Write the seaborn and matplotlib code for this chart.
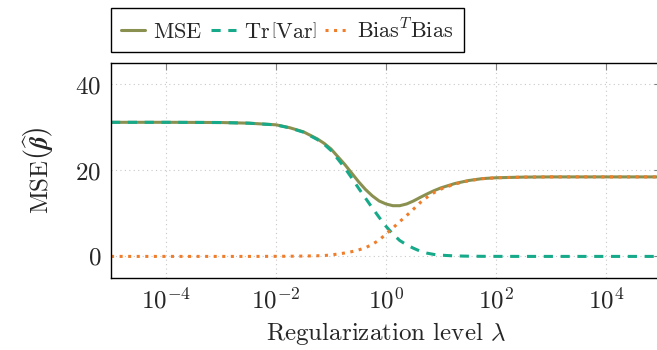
import numpy as np
import pandas as pd
import seaborn as sns
import matplotlib.pyplot as plt

# values (log10 of lambda on x)
log_lam = [-5, -4, -3, -2.5, -2, -1.75, -1.5, -1.25, -1.125, -1, -0.875, -0.75, -0.625, -0.5,
           -0.375, -0.25, -0.125, 0, 0.125, 0.25, 0.375, 0.5, 0.625, 0.75, 0.875, 1,
           1.25, 1.5, 1.75, 2, 2.5, 3, 4, 5]
tr_var = [31.2, 31.2, 31.15, 31.0, 30.6, 29.9, 28.9, 27.2, 26.1, 24.65, 22.65, 20.6, 18.3, 15.9,
          13.6, 11.3, 9.1, 7.0, 5.2, 3.7, 2.7, 1.9, 1.2, 0.75, 0.45, 0.28,
          0.12, 0.05, 0.02, 0.01, 0.0, 0.0, 0.0, 0.0]
bias_sq = [0.0, 0.0, 0.0, 0.0, 0.02, 0.04, 0.08, 0.15, 0.2, 0.35, 0.55, 0.8, 1.1, 1.5,
           2.0, 2.8, 3.8, 5.2, 6.6, 8.1, 9.5, 11.0, 12.55, 13.8, 14.85, 15.67,
           16.83, 17.6, 18.08, 18.29, 18.45, 18.5, 18.5, 18.5]
mse = [v + b for v, b in zip(tr_var, bias_sq)]

lam = [10.0 ** e for e in log_lam]
df = pd.DataFrame({"lam": lam, "mse": mse, "var": tr_var, "bias": bias_sq})

sns.set_style("white")
plt.rcParams["font.family"] = "serif"
plt.rcParams["font.serif"] = ["cmr10", "DejaVu Serif"]
plt.rcParams["mathtext.fontset"] = "cm"
plt.rcParams["axes.formatter.use_mathtext"] = True
plt.rcParams["axes.unicode_minus"] = False

fig = plt.figure(figsize=(6.57, 3.5), dpi=100)
ax = fig.add_axes([0.169, 0.206, 0.837, 0.614])

sns.lineplot(data=df, x="lam", y="mse", ax=ax, color="#8a9150", lw=2.2,
             label=r"$\mathrm{MSE}$")
sns.lineplot(data=df, x="lam", y="var", ax=ax, color="#17aa8a", lw=2.2,
             label=r"$\mathrm{Tr}\,\left[\mathrm{Var}\right]$")
sns.lineplot(data=df, x="lam", y="bias", ax=ax, color="#f07d2a", lw=2.2,
             label=r"$\mathrm{Bias}^T\mathrm{Bias}$")
ax.lines[1].set_dashes([3, 2.5])
ax.lines[2].set_dashes([1, 1.8])

ax.set_xscale("log")
ax.set_xlim(1e-5, 1e5)
ax.set_ylim(-5, 45)
ax.set_xticks([1e-4, 1e-2, 1e0, 1e2, 1e4])
ax.set_yticks([0, 20, 40])
ax.minorticks_off()
ax.grid(True, color="#c8c8c8", ls=(0, (1, 3)), lw=0.8)
ax.tick_params(direction="in", length=5, color="#808080", labelsize=18,
               top=True, right=True, pad=7)
for s in ax.spines.values():
    s.set_color("black")
    s.set_linewidth(1.0)

ax.set_xlabel(r"Regularization level $\lambda$", fontsize=18, labelpad=5)
ax.set_ylabel(r"$\mathrm{MSE}\left(\widehat{\boldsymbol{\beta}}\right)$", fontsize=18, labelpad=14)

leg = ax.legend(loc="lower left", bbox_to_anchor=(0, 1.05), borderaxespad=0,
                ncol=3, fancybox=False, edgecolor="black", framealpha=1,
                fontsize=16, handlelength=1.1, columnspacing=0.4, handletextpad=0.35,
                borderpad=0.45)
leg.get_frame().set_linewidth(1.0)

fig.savefig("out.png", dpi=100)
